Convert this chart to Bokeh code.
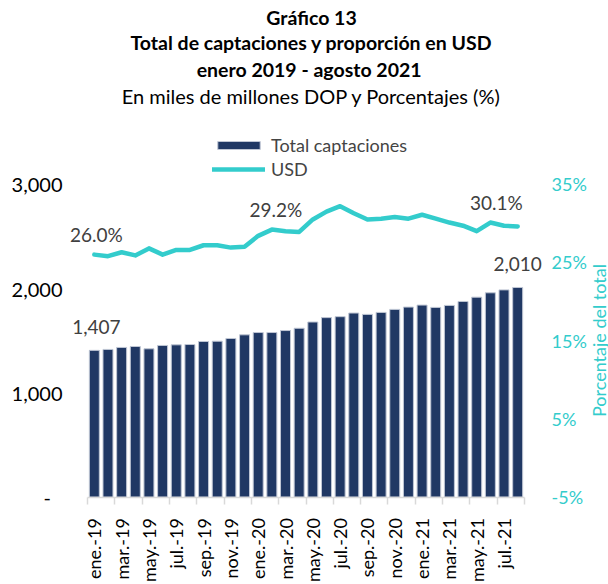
import math
from bokeh.plotting import figure
from bokeh.models import (Range1d, LinearAxis, FixedTicker, Label, Legend,
                          LegendItem, ColumnDataSource)
from bokeh.embed import file_html
from bokeh.resources import INLINE

# ---------------- data ----------------
months = ["ene", "feb", "mar", "abr", "may", "jun", "jul", "ago", "sep", "oct", "nov", "dic"]
years = ["19", "20", "21"]
categories = [f"{m}.-{y}" for y in years for m in months][:32]

total_captaciones = [1407, 1416, 1435, 1444, 1422, 1454, 1460, 1463, 1492, 1495,
                     1521, 1556, 1578, 1578, 1597, 1619, 1679, 1721, 1730, 1765,
                     1752, 1771, 1800, 1822, 1841, 1819, 1838, 1876, 1917, 1959,
                     1987, 2010]
usd_pct = [26.0, 25.8, 26.3, 25.9, 26.8, 26.0, 26.6, 26.6, 27.2, 27.2,
           26.9, 27.0, 28.4, 29.2, 29.0, 28.9, 30.5, 31.5, 32.2, 31.3,
           30.5, 30.6, 30.8, 30.6, 31.1, 30.6, 30.1, 29.7, 29.0, 30.1,
           29.7, 29.6]

left_ticks = [0, 1000, 2000, 3000]
right_ticks = [-5, 5, 15, 25, 35]
bar_label_idx = [0, 31]
usd_label_idx = [0, 13, 29]

title_lines = ["Gráfico 13",
               "Total de captaciones y proporción en USD",
               "enero 2019  - agosto 2021",
               "En miles de millones DOP y Porcentajes (%)"]
series_names = ["Total captaciones", "USD"]
right_axis_title = "Porcentaje del total"

FONT = "Lato"
NAVY = "#203864"
CYAN = "#33CCCC"
BAR_EDGE = "#BFC6D4"

# ---------------- layout geometry (pixels) ----------------
W, H = 608, 584
HG = H + 4                       # effective frame height observed with a pinned x axis
FL = 66                          # left border; the frame fills the rest of the canvas
AX_TOP, AX_BOTTOM = 185, 500     # where the value axes span
AX_LEFT, AX_RIGHT = 87, 524      # where the category axis spans
RIGHT_AXIS_PX = 543              # where the secondary axis sits
n = len(categories)
px = (AX_RIGHT - AX_LEFT) / n
x_start = -0.5 - (AX_LEFT - FL) / px
x_end = x_start + (W - FL) / px
right_axis_x = (n - 0.5) + (RIGHT_AXIS_PX - AX_RIGHT) / px
ppy = (AX_BOTTOM - AX_TOP)
y_per_px = (left_ticks[-1] - left_ticks[0]) / ppy
y_start = left_ticks[0] - (HG - AX_BOTTOM) * y_per_px
y_end = left_ticks[0] + AX_BOTTOM * y_per_px
pct_per_px = (right_ticks[-1] - right_ticks[0]) / ppy
pct_start = right_ticks[0] - (HG - AX_BOTTOM) * pct_per_px
pct_end = right_ticks[0] + AX_BOTTOM * pct_per_px

x = list(range(n))
src = ColumnDataSource(dict(x=x, total=total_captaciones, usd=usd_pct))

p = figure(width=W, height=H, output_backend="svg", toolbar_location=None,
           x_range=Range1d(x_start, x_end), y_range=Range1d(y_start, y_end),
           min_border_left=FL, min_border_right=0, min_border_top=0,
           min_border_bottom=0)
p.outline_line_color = None
p.grid.visible = False
p.extra_y_ranges = {"pct": Range1d(pct_start, pct_end)}

bars = p.vbar(x="x", top="total", bottom=left_ticks[0], width=0.73, source=src,
              fill_color=NAVY, line_color=BAR_EDGE, line_width=1)
line = p.line(x="x", y="usd", source=src, y_range_name="pct", line_color=CYAN,
              line_width=4.5, line_join="round", line_cap="round")

# x axis, pinned at value 0
xa = p.xaxis[0]
xa.fixed_location = left_ticks[0]
xa.bounds = (-0.5, n - 0.5)
xa.ticker = FixedTicker(ticks=list(range(0, n, 2)),
                        minor_ticks=[i - 0.5 for i in range(0, n + 1, 2)])
xa.major_label_overrides = {i: categories[i] for i in range(0, n, 2)}
xa.major_tick_out = 0
xa.major_tick_in = 0
xa.minor_tick_out = 7
xa.minor_tick_in = 0
xa.minor_tick_line_color = "#D9D9D9"
xa.minor_tick_line_width = 1.5
xa.axis_line_color = "#D9D9D9"
xa.axis_line_width = 1.5
xa.major_label_orientation = math.pi / 2
xa.major_label_standoff = 14
xa.major_label_text_font = FONT
xa.major_label_text_font_size = "18px"
xa.major_label_text_color = "#000000"

# left axis
ya = p.yaxis[0]
ya.bounds = (left_ticks[0], left_ticks[-1])
ya.ticker = FixedTicker(ticks=left_ticks)
ya.major_label_overrides = {v: ("-\u2007" if v == 0 else f"{v:,}") for v in left_ticks}
ya.axis_line_color = None
ya.major_tick_line_color = None
ya.minor_tick_line_color = None
ya.major_label_standoff = -2
ya.major_label_text_font = FONT
ya.major_label_text_font_size = "20px"
ya.major_label_text_color = "#000000"

# right (secondary) axis, pinned next to the last bar
ra = LinearAxis(y_range_name="pct", ticker=FixedTicker(ticks=right_ticks),
                bounds=(right_ticks[0], right_ticks[-1]),
                fixed_location=right_axis_x)
ra.major_label_overrides = {v: f"{v}%" for v in right_ticks}
ra.axis_line_color = None
ra.major_tick_line_color = None
ra.minor_tick_line_color = None
ra.major_label_standoff = 2
ra.major_label_text_font = FONT
ra.major_label_text_font_size = "18px"
ra.major_label_text_color = CYAN
p.add_layout(ra, "right")

# secondary axis title
p.add_layout(Label(x=598 - FL, y=HG - 344, x_units="screen", y_units="screen",
                   text=right_axis_title, angle=math.pi / 2, text_align="center",
                   text_baseline="middle", text_font=FONT, text_font_size="18px",
                   text_color=CYAN))

# titles (inside the frame, which reaches the top of the canvas)
title_y = [21, 46, 73, 99]
title_x = 311
for i, (t, yy) in enumerate(zip(title_lines, title_y)):
    p.add_layout(Label(x=title_x - FL, y=HG - yy, x_units="screen", y_units="screen",
                       text=t, text_align="center", text_baseline="middle",
                       text_font=FONT, text_font_size="19.5px" if i < 3 else "20px",
                       text_font_style="bold" if i < 3 else "normal",
                       text_color="#000000"))

# data labels
bar_offsets = {0: 2, 31: 0}
for i in bar_label_idx:
    p.add_layout(Label(x=i, y=total_captaciones[i], x_offset=bar_offsets[i], y_offset=23,
                       text=f"{total_captaciones[i]:,}", text_align="center",
                       text_baseline="middle", text_font=FONT,
                       text_font_size="19px", text_color="#404040"))
usd_offsets = {0: 2, 13: 4, 29: 6}
for i in usd_label_idx:
    p.add_layout(Label(x=i, y=usd_pct[i], y_range_name="pct", x_offset=usd_offsets[i],
                       y_offset=20, text=f"{usd_pct[i]:.1f}%", text_align="center",
                       text_baseline="middle", text_font=FONT,
                       text_font_size="19px", text_color="#404040"))

legend = Legend(items=[LegendItem(label=series_names[0], renderers=[bars]),
                       LegendItem(label=series_names[1], renderers=[line])],
                location=(212 - FL, HG - 184), orientation="vertical",
                glyph_width=53, glyph_height=10, label_height=20, spacing=2,
                padding=0, margin=0, border_line_color=None,
                background_fill_alpha=0, label_text_font=FONT,
                label_text_font_size="18px", label_standoff=6)
p.add_layout(legend, "center")

open("out.html", "w").write(file_html(p, INLINE))
